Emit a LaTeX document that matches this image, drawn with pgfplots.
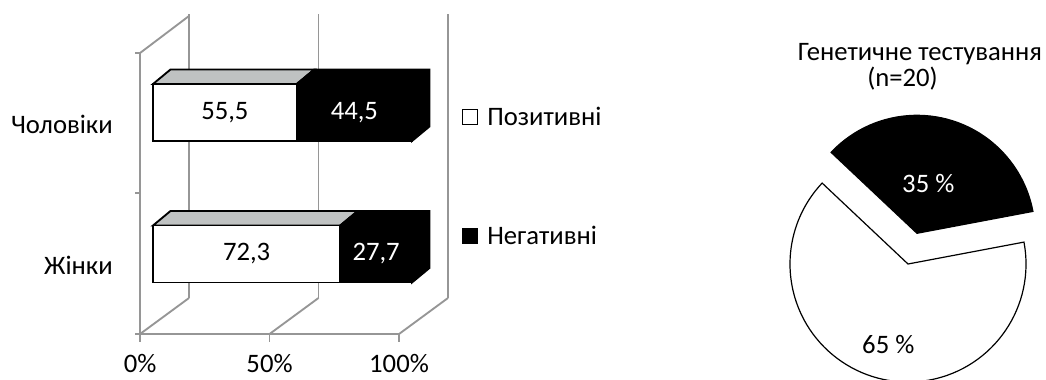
\documentclass[border=0pt]{standalone}
\usepackage{fontspec}
\setmainfont{Carlito}
\usepackage{pgfplots}
\pgfplotsset{compat=1.18}
\definecolor{gridgray}{RGB}{150,150,150}
\definecolor{topgray}{RGB}{191,194,194}
\newcommand{\lbl}{\fontsize{20}{24}\selectfont}
\begin{document}
\begin{tikzpicture}
\path[use as bounding box] (0,0) rectangle (784.5pt,-284.25pt);
% ---------- walls and 3D faces ----------
\begin{axis}[
  at={(95.33pt,-286.01pt)}, anchor=south west,
  scale only axis, width=252.5pt, height=286.54pt,
  xmin=-10, xmax=120, ymin=-0.9, ymax=1.8,
  hide axis, clip=false]
% back wall verticals
\addplot[gridgray, line width=1.4pt] coordinates {(13.9,-0.311) (13.9,1.696)};
\addplot[gridgray, line width=1.4pt] coordinates {(63.9,-0.311) (63.9,1.696)};
\addplot[gridgray, line width=1.4pt] coordinates {(113.9,-0.311) (113.9,1.696)};
% left side wall
\addplot[gridgray, line width=1.4pt] coordinates {(-5,-0.5654) (-5,1.4205) (13.9,1.682)};
% floor
\addplot[gridgray, line width=1.4pt] coordinates {(-5,-0.5654) (95,-0.5654)};
\addplot[gridgray, line width=1.4pt] coordinates {(-5,-0.5654) (13.9,-0.311)};
\addplot[gridgray, line width=1.4pt] coordinates {(45,-0.5654) (63.9,-0.311)};
\addplot[gridgray, line width=1.4pt] coordinates {(95,-0.5654) (113.9,-0.311)};
% ticks
\addplot[gridgray, line width=1.4pt] coordinates {(-5,-0.5654) (-6.93,-0.5654)};
\addplot[gridgray, line width=1.4pt] coordinates {(-5,0.431) (-6.93,0.431)};
\addplot[gridgray, line width=1.4pt] coordinates {(-5,1.4205) (-6.93,1.4205)};
\addplot[gridgray, line width=1.4pt] coordinates {(-5,-0.5654) (-5,-0.6219)};
\addplot[gridgray, line width=1.4pt] coordinates {(45,-0.5654) (45,-0.6219)};
\addplot[gridgray, line width=1.4pt] coordinates {(95,-0.5654) (95,-0.6219)};
% top faces (Чоловіки)
\addplot[fill=topgray, draw=black, line width=1.4pt] coordinates {(0,1.2014) (55.5,1.2014) (62.26,1.3039) (6.76,1.3039)} --cycle;
\addplot[fill=black, draw=black, line width=1.4pt] coordinates {(55.5,1.2014) (100,1.2014) (100,0.7986) (106.76,0.9011) (106.76,1.3039) (62.26,1.3039)} --cycle;
% top faces (Жінки)
\addplot[fill=topgray, draw=black, line width=1.4pt] coordinates {(0,0.2014) (72.3,0.2014) (79.06,0.3039) (6.76,0.3039)} --cycle;
\addplot[fill=black, draw=black, line width=1.4pt] coordinates {(72.3,0.2014) (100,0.2014) (100,-0.2014) (106.76,-0.0989) (106.76,0.3039) (79.06,0.3039)} --cycle;
% labels
\node[font=\lbl, anchor=east, inner sep=0pt] at (axis cs:-15.44,0.919) {Чоловіки};
\node[font=\lbl, anchor=east, inner sep=0pt] at (axis cs:-15.44,-0.078) {Жінки};
\node[font=\lbl, inner sep=0pt] at (axis cs:-5,-0.774) {0\%};
\node[font=\lbl, inner sep=0pt] at (axis cs:45,-0.774) {50\%};
\node[font=\lbl, inner sep=0pt] at (axis cs:95,-0.774) {100\%};
\end{axis}
% ---------- front faces (stacked bars) ----------
\begin{axis}[
  at={(95.33pt,-286.01pt)}, anchor=south west,
  scale only axis, width=252.5pt, height=286.54pt,
  xmin=-10, xmax=120, ymin=-0.9, ymax=1.8,
  hide axis, clip=false,
  xbar stacked, bar width=42.75pt,
  legend image code/.code={\draw[#1, line width=0.8pt] (0pt,-5.6pt) rectangle (11.2pt,5.6pt);},
  legend style={at={(axis cs:119.2,0.548)}, anchor=west, draw=none, fill=none,
    font=\lbl, row sep=70pt, inner sep=0pt,
    /tikz/every odd column/.append style={column sep=5pt}},
  legend cell align=left]
\addplot[fill=white, draw=black, line width=1.4pt] coordinates {(72.3,0) (55.5,1)};
\addplot[fill=black, draw=black, line width=1.4pt] coordinates {(27.7,0) (44.5,1)};
\legend{Позитивні, Негативні}
\end{axis}
% ---------- value labels ----------
\begin{axis}[
  at={(95.33pt,-286.01pt)}, anchor=south west,
  scale only axis, width=252.5pt, height=286.54pt,
  xmin=-10, xmax=120, ymin=-0.9, ymax=1.8,
  hide axis, clip=false]
\node[font=\lbl] at (axis cs:27.75,1) {55,5};
\node[font=\lbl, white] at (axis cs:77.75,1) {44,5};
\node[font=\lbl] at (axis cs:36.15,0) {72,3};
\node[font=\lbl, white] at (axis cs:86.15,0) {27,7};
\end{axis}
% ---------- pie ----------
\def\pctPos{65}
\def\pctNeg{35}
\pgfmathsetmacro\angA{10.7}
\pgfmathsetmacro\angB{\angA-3.6*\pctPos}
\pgfmathsetmacro\angC{\angB-3.6*\pctNeg}
\pgfmathsetmacro\angMid{(\angB+\angC)/2}
\begin{axis}[
  at={(681pt,-198pt)}, anchor=center,
  scale only axis, x=0.75pt, y=0.75pt,
  xmin=-130, xmax=130, ymin=-130, ymax=130,
  hide axis, clip=false]
\filldraw[fill=white, draw=black, line width=0.9pt] (axis cs:0,0) -- ++(\angA:88.5pt) arc[start angle=\angA, end angle=\angB, radius=88.5pt] -- cycle;
\filldraw[fill=black, draw=black, line width=0.9pt, shift={(\angMid:24pt)}] (axis cs:0,0) -- ++(\angB:88.5pt) arc[start angle=\angB, end angle=\angC, radius=88.5pt] -- cycle;
\node[font=\lbl, white] at (axis cs:20.3,80.7) {35 \%};
\node[font=\lbl] at (axis cs:-19.7,-81) {65 \%};
\node[font=\lbl, anchor=base, inner sep=0pt] at (axis cs:12,204) {Генетичне тестування};
\node[font=\lbl, anchor=base, inner sep=0pt] at (axis cs:-5.5,178) {(n=20)};
\end{axis}
\end{tikzpicture}
\end{document}
